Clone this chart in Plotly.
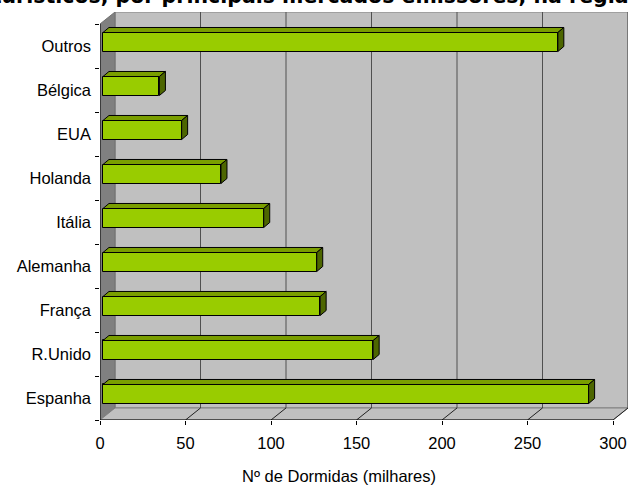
import plotly.graph_objects as go

# Dormidas (milhares) por mercado emissor
categories = ["Espanha", "R.Unido", "França", "Alemanha", "Itália",
              "Holanda", "EUA", "Bélgica", "Outros"]
dormidas = [284, 158, 127, 125, 94, 69, 46, 33, 266]
x_ticks = [0, 50, 100, 150, 200, 250, 300]

# oblique 3D projection, expressed in axis units
X_MAX = 300
DEPTH_X = 8.77      # wall depth along x
DEPTH_Y = 0.273     # wall depth along y (category units)
BAR_BASE = 1.75     # bar front face starts slightly inside the box
BAR_DX = 3.5        # bar depth along x
BAR_DY = 0.114      # bar depth along y
BAR_W = 0.432
BAR_SHIFT = 0.091

FRONT = "#99CC00"
TOP = "#7A9E00"
SIDE = "#4D6600"
WALL = "#C0C0C0"
SIDE_WALL = "#808080"
FONT = "Liberation Sans, Arial, sans-serif"
LABEL_SIZE = 16.5

y_pos = list(range(len(categories)))
y_lo = -0.5
y_hi = len(categories) - 0.5

fig = go.Figure()

# front faces of the bars
fig.add_trace(go.Bar(
    y=y_pos, x=dormidas, base=BAR_BASE, orientation="h",
    width=BAR_W, offset=-BAR_W / 2 + BAR_SHIFT,
    marker=dict(color=FRONT, line=dict(color="black", width=1)),
    hoverinfo="skip", showlegend=False,
))

# top and right side faces, derived from each bar's value
for i, v in zip(y_pos, dormidas):
    x0 = BAR_BASE
    x1 = BAR_BASE + v
    yb = i - BAR_W / 2 + BAR_SHIFT
    yt = yb + BAR_W
    fig.add_trace(go.Scatter(
        x=[x0, x1, x1 + BAR_DX, x0 + BAR_DX, x0],
        y=[yt, yt, yt + BAR_DY, yt + BAR_DY, yt],
        mode="lines", fill="toself", fillcolor=TOP,
        line=dict(color="black", width=1),
        hoverinfo="skip", showlegend=False,
    ))
    fig.add_trace(go.Scatter(
        x=[x1, x1 + BAR_DX, x1 + BAR_DX, x1, x1],
        y=[yt, yt + BAR_DY, yb + BAR_DY, yb, yt],
        mode="lines", fill="toself", fillcolor=SIDE,
        line=dict(color="black", width=1),
        hoverinfo="skip", showlegend=False,
    ))

shapes = []
# back wall
shapes.append(dict(type="rect", xref="x", yref="y", layer="below",
                   x0=DEPTH_X, x1=X_MAX + DEPTH_X,
                   y0=y_lo + DEPTH_Y, y1=y_hi + DEPTH_Y,
                   fillcolor=WALL, line=dict(color="#808080", width=1)))
# side wall
shapes.append(dict(type="path", xref="x", yref="y", layer="below",
                   path=f"M 0,{y_lo} L {DEPTH_X},{y_lo + DEPTH_Y} "
                        f"L {DEPTH_X},{y_hi + DEPTH_Y} L 0,{y_hi} Z",
                   fillcolor=SIDE_WALL, line=dict(color="#707070", width=1)))
# floor
shapes.append(dict(type="path", xref="x", yref="y", layer="below",
                   path=f"M 0,{y_lo} L {DEPTH_X},{y_lo + DEPTH_Y} "
                        f"L {X_MAX + DEPTH_X},{y_lo + DEPTH_Y} L {X_MAX},{y_lo} Z",
                   fillcolor=WALL, line=dict(color="#808080", width=1)))
# gridlines on the back wall and their projections on the floor
for t in x_ticks[1:]:
    shapes.append(dict(type="line", xref="x", yref="y", layer="below",
                       x0=t + DEPTH_X, x1=t + DEPTH_X,
                       y0=y_lo + DEPTH_Y, y1=y_hi + DEPTH_Y,
                       line=dict(color="#505050", width=1)))
    shapes.append(dict(type="line", xref="x", yref="y", layer="below",
                       x0=t, x1=t + DEPTH_X,
                       y0=y_lo, y1=y_lo + DEPTH_Y,
                       line=dict(color="#202020", width=1)))
# front axis lines
shapes.append(dict(type="line", xref="x", yref="y",
                   x0=0, x1=X_MAX, y0=y_lo, y1=y_lo,
                   line=dict(color="black", width=1)))
shapes.append(dict(type="line", xref="x", yref="y",
                   x0=0, x1=0, y0=y_lo, y1=y_hi,
                   line=dict(color="black", width=1)))

annotations = [
    dict(text="Nº de Dormidas (milhares)", xref="paper", yref="paper",
         x=(339 - 100) / 528, y=(420 - 476) / 408,
         xanchor="center", yanchor="middle", showarrow=False,
         font=dict(family=FONT, size=LABEL_SIZE, color="black")),
    dict(text="<b>Dormidas nos empreendimentos turísticos, por principais "
              "mercados emissores, na região</b>",
         xref="paper", yref="paper",
         x=(-393 - 100) / 528, y=(420 - 10) / 408,
         xanchor="left", yanchor="bottom", showarrow=False,
         font=dict(family="DejaVu Sans", size=20.5, color="black")),
]

fig.update_layout(
    width=629, height=487,
    margin=dict(l=100, r=1, t=12, b=67),
    paper_bgcolor="white", plot_bgcolor="white",
    shapes=shapes, annotations=annotations,
    bargap=0,
    xaxis=dict(range=[0, X_MAX + DEPTH_X], tickvals=x_ticks,
               ticks="outside", ticklen=4, tickcolor="black",
               ticklabelstandoff=4,
               showgrid=False, zeroline=False, showline=False,
               tickfont=dict(family=FONT, size=LABEL_SIZE, color="black")),
    yaxis=dict(range=[y_lo, y_hi + DEPTH_Y], tickvals=y_pos,
               ticktext=categories, ticks="",
               ticklabelstandoff=8,
               showgrid=False, zeroline=False, showline=False,
               tickfont=dict(family=FONT, size=LABEL_SIZE, color="black"),
               minor=dict(tickvals=[k - 0.5 for k in range(len(categories) + 1)],
                          ticks="outside", ticklen=4, tickcolor="black",
                          showgrid=False)),
)

fig.write_html("out.html")
